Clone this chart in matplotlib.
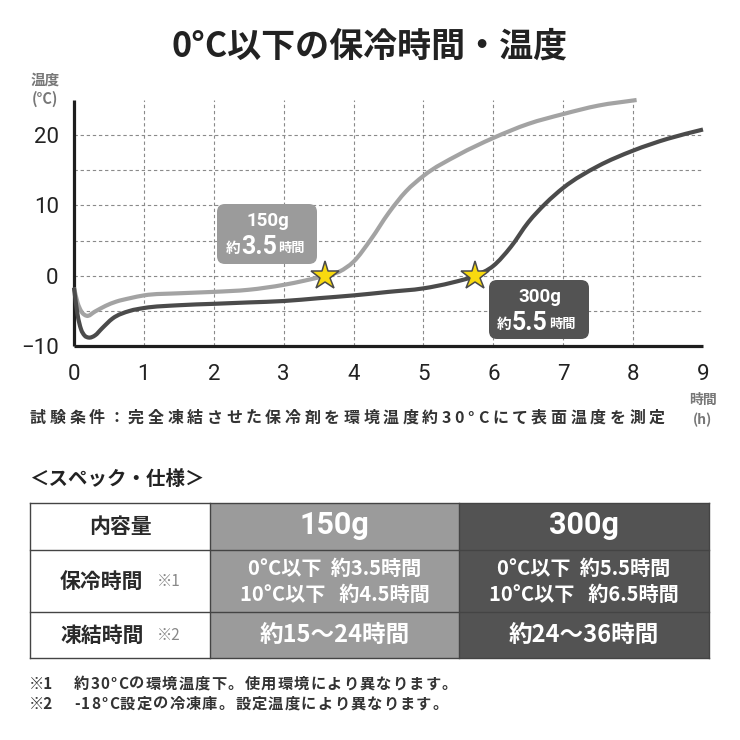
import numpy as np
import matplotlib.pyplot as plt
from matplotlib.patches import FancyBboxPatch, Rectangle, PathPatch
from matplotlib.path import Path
from matplotlib.transforms import Affine2D

plt.rcParams['font.family'] = ['Noto Sans CJK JP', 'DejaVu Sans']
NUM = ['Roboto', 'Noto Sans CJK JP']

# グラフのデータ
hours_150 = [0.0, 0.05, 0.1, 0.18, 0.3, 0.45, 0.6, 0.8, 1.0, 1.5, 2.0, 2.5, 3.0, 3.3,
             3.59, 3.8, 4.0, 4.25, 4.5, 4.75, 5.0, 5.5, 6.0, 6.5, 7.0, 7.5, 8.05]
temp_150 = [-1.7, -3.8, -5.0, -5.7, -5.1, -4.3, -3.7, -3.2, -2.8, -2.5, -2.3, -2.0, -1.3, -0.7,
            0.0, 0.6, 2.0, 5.2, 8.9, 12.0, 14.2, 17.2, 19.6, 21.6, 23.0, 24.2, 25.0]
hours_300 = [0.0, 0.05, 0.1, 0.15, 0.21, 0.3, 0.4, 0.55, 0.8, 1.0, 1.5, 2.0, 2.5, 3.0, 3.5,
             4.0, 4.5, 5.0, 5.4, 5.74, 6.0, 6.25, 6.5, 6.75, 7.0, 7.5, 8.0, 8.5, 9.0]
temp_300 = [-1.7, -5.5, -7.6, -8.5, -8.8, -8.5, -7.5, -6.1, -5.0, -4.6, -4.2, -4.0, -3.8, -3.6, -3.2,
            -2.8, -2.3, -1.8, -1.0, 0.0, 1.4, 4.1, 7.6, 10.3, 12.5, 15.6, 17.8, 19.5, 20.8]
star_hours = [3.59, 5.74]
star_temps = [0, 0]
x_ticks = list(range(10))
y_ticks = [-10, 0, 10, 20]

# 表のデータ
row_labels = ['内容量', '保冷時間', '凍結時間']
row_notes = ['', '※1', '※2']
col_heads = ['150g', '300g']
keep_lines = [['0°C以下  約3.5時間', '10°C以下   約4.5時間'],
              ['0°C以下  約5.5時間', '10°C以下   約6.5時間']]
freeze_time = ['約15～24時間', '約24～36時間']
footnotes = [('※1', '約30°Cの環境温度下。使用環境により異なります。'),
             ('※2', '-18°C設定の冷凍庫。設定温度により異なります。')]

LIGHT = '#9b9b9b'
DARK = '#535353'
TXT = '#222222'

W = H = 740
fig = plt.figure(figsize=(W / 100, H / 100), dpi=100)
fig.patch.set_facecolor('white')

# 背景用の座標（ピクセル、上が0）
bg = fig.add_axes([0, 0, 1, 1], zorder=0)
bg.set_xlim(0, W)
bg.set_ylim(H, 0)
bg.axis('off')
pix = Affine2D().scale(1, -1).translate(0, H)
renderer = fig.canvas.get_renderer()


def text_w(s, **kw):
    t = bg.text(0, 0, s, **kw)
    w = t.get_window_extent(renderer).width
    t.remove()
    return w


def spaced(x, y, s, spacing, ha='left', **kw):
    # 文字間隔をあけて一文字ずつ描く
    base = text_w('||', **kw)
    pos = [text_w('|' + s[:i] + '|', **kw) - base for i in range(len(s) + 1)]
    total = pos[-1] + spacing * (len(s) - 1)
    if ha == 'center':
        x -= total / 2
    for i, ch in enumerate(s):
        bg.text(x + pos[i] + spacing * i, y, ch, ha='left', va='center', **kw)


def smooth_line(ax, xs, ys, **kw):
    # 読み取った点をなめらかに結ぶ（エルミート曲線）
    xs = np.asarray(xs, float)
    ys = np.asarray(ys, float)
    m = np.gradient(ys, xs)
    verts = [(xs[0], ys[0])]
    codes = [Path.MOVETO]
    for i in range(len(xs) - 1):
        h = xs[i + 1] - xs[i]
        verts += [(xs[i] + h / 3, ys[i] + m[i] * h / 3),
                  (xs[i + 1] - h / 3, ys[i + 1] - m[i + 1] * h / 3),
                  (xs[i + 1], ys[i + 1])]
        codes += [Path.CURVE4] * 3
    ax.add_patch(PathPatch(Path(verts, codes), fill=False, transform=ax.transData, **kw))


# タイトル
bg.text(370, 46, '0°C以下の保冷時間・温度', ha='center', va='center', fontsize=24.5,
        weight='bold', color=TXT)

# グラフ
ax = fig.add_axes([74 / W, 1 - 346 / H, 629 / W, 246 / H], zorder=2)
ax.set_facecolor('none')
ax.set_xlim(0, 9)
ax.set_ylim(-10, 25)
for s in ['top', 'right']:
    ax.spines[s].set_visible(False)
for s in ['left', 'bottom']:
    ax.spines[s].set_linewidth(2.3)
    ax.spines[s].set_color('#1e1e1e')
    ax.spines[s].set_capstyle('butt')
ax.set_xticks(x_ticks)
ax.set_yticks(y_ticks)
ax.tick_params(length=0, labelsize=16, colors=TXT)
ax.tick_params(axis='y', pad=11)
ax.tick_params(axis='x', pad=13)
for lb in ax.get_xticklabels() + ax.get_yticklabels():
    lb.set_family(NUM)

ax.vlines(range(1, 9), -10, 25, colors='#8a8a8a', linestyles=(0, (3, 2.5)), linewidth=0.8, zorder=1)
ax.hlines([-5, 0, 5, 10, 15, 20], 0, 9, colors='#8a8a8a', linestyles=(0, (3, 2.5)), linewidth=0.8, zorder=1)

smooth_line(ax, hours_150, temp_150, ec='#a3a3a3', lw=3.0, capstyle='butt', joinstyle='round',
            clip_on=False, zorder=3)
smooth_line(ax, hours_300, temp_300, ec='#4b4b4b', lw=3.0, capstyle='butt', joinstyle='round',
            clip_on=False, zorder=3)
ax.plot(star_hours, star_temps, ls='none', marker='*', ms=21, mfc='#f8d90f', mec='#4a4a4a', mew=1.1,
        zorder=6, clip_on=False)

# 吹き出し
for (x0, y0, x1, y1), col, head, hrs, cx in [((217, 204, 317, 264), LIGHT, '150g', '3.5', 259),
                                            ((489, 280, 589, 339), DARK, '300g', '5.5', 530)]:
    ax.add_patch(FancyBboxPatch((x0, y0), x1 - x0, y1 - y0, boxstyle='round,pad=0,rounding_size=8',
                                fc=col, ec='none', transform=pix, zorder=5, clip_on=False))
    mx = (x0 + x1) / 2
    ax.text(mx + 1, y0 + 17, head, transform=pix, ha='center', va='center', color='white',
            fontsize=13.5, weight='bold', family=NUM, zorder=7, clip_on=False)
    yy = y0 + 43
    ax.text(cx, yy, hrs, transform=pix, ha='center', va='center', color='white',
            fontsize=18, weight='bold', family=NUM, zorder=7, clip_on=False)
    ax.text(cx - 19, yy + 1, '約', transform=pix, ha='right', va='center', color='white',
            fontsize=10.5, weight='bold', zorder=7, clip_on=False)
    ax.text(cx + 19, yy + 1, '時間', transform=pix, ha='left', va='center', color='white',
            fontsize=9.5, weight='bold', zorder=7, clip_on=False)

# 軸ラベル
bg.text(45, 80, '温度', ha='center', va='center', fontsize=10.5, color='#777777', weight='bold')
bg.text(45, 99, '(°C)', ha='center', va='center', fontsize=10.5, color='#777777', weight='bold')
bg.text(703, 400, '時間', ha='center', va='center', fontsize=10, color='#777777', weight='bold')
bg.text(703, 420, '(h)', ha='center', va='center', fontsize=10, color='#777777', weight='bold')

# 試験条件
spaced(30, 418, '試験条件：完全凍結させた保冷剤を環境温度約30°Cにて表面温度を測定', 3.6,
       fontsize=11.5, color='#333333', weight='bold')

# 仕様
bg.text(29, 479, '＜スペック・仕様＞', ha='left', va='center', fontsize=14, weight='bold', color=TXT)

col_x = [30, 210, 459, 709]
row_y = [503, 550, 612, 658]
fills = ['white', LIGHT, DARK]
for c in range(3):
    bg.add_patch(Rectangle((col_x[c], row_y[0]), col_x[c + 1] - col_x[c], row_y[-1] - row_y[0],
                           fc=fills[c], ec='none'))
for y in row_y:
    bg.plot([col_x[0], col_x[-1]], [y, y], color='#444444', lw=1.0)
for x in col_x:
    bg.plot([x, x], [row_y[0], row_y[-1]], color='#444444', lw=1.0)

for r, (lab, note) in enumerate(zip(row_labels, row_notes)):
    cy = (row_y[r] + row_y[r + 1]) / 2
    if note:
        bg.text(60, cy, lab, ha='left', va='center', fontsize=15, weight='bold', color='#2a2a2a')
        bg.text(157, cy, note, ha='left', va='center', fontsize=11, color='#888888')
    else:
        bg.text(120, cy, lab, ha='center', va='center', fontsize=15, weight='bold', color='#2a2a2a')

for c in range(2):
    cx = (col_x[c + 1] + col_x[c + 2]) / 2
    bg.text(cx, (row_y[0] + row_y[1]) / 2 - 1, col_heads[c], ha='center', va='center',
            fontsize=22, weight='bold', family=NUM, color='white')
    bg.text(cx, 568, keep_lines[c][0], ha='center', va='center', fontsize=14.5, weight='bold', color='white')
    bg.text(cx, 594, keep_lines[c][1], ha='center', va='center', fontsize=14.5, weight='bold', color='white')
    bg.text(cx, (row_y[2] + row_y[3]) / 2, freeze_time[c], ha='center', va='center',
            fontsize=17, weight='bold', color='white')

for i, (mark, txt) in enumerate(footnotes):
    y = 684 + 20 * i
    bg.text(29, y, mark, ha='left', va='center', fontsize=11, color='#333333', weight='bold')
    spaced(74, y, txt, 1.2, fontsize=11, color='#333333', weight='bold')

fig.savefig('out.png', dpi=100, facecolor='white')
